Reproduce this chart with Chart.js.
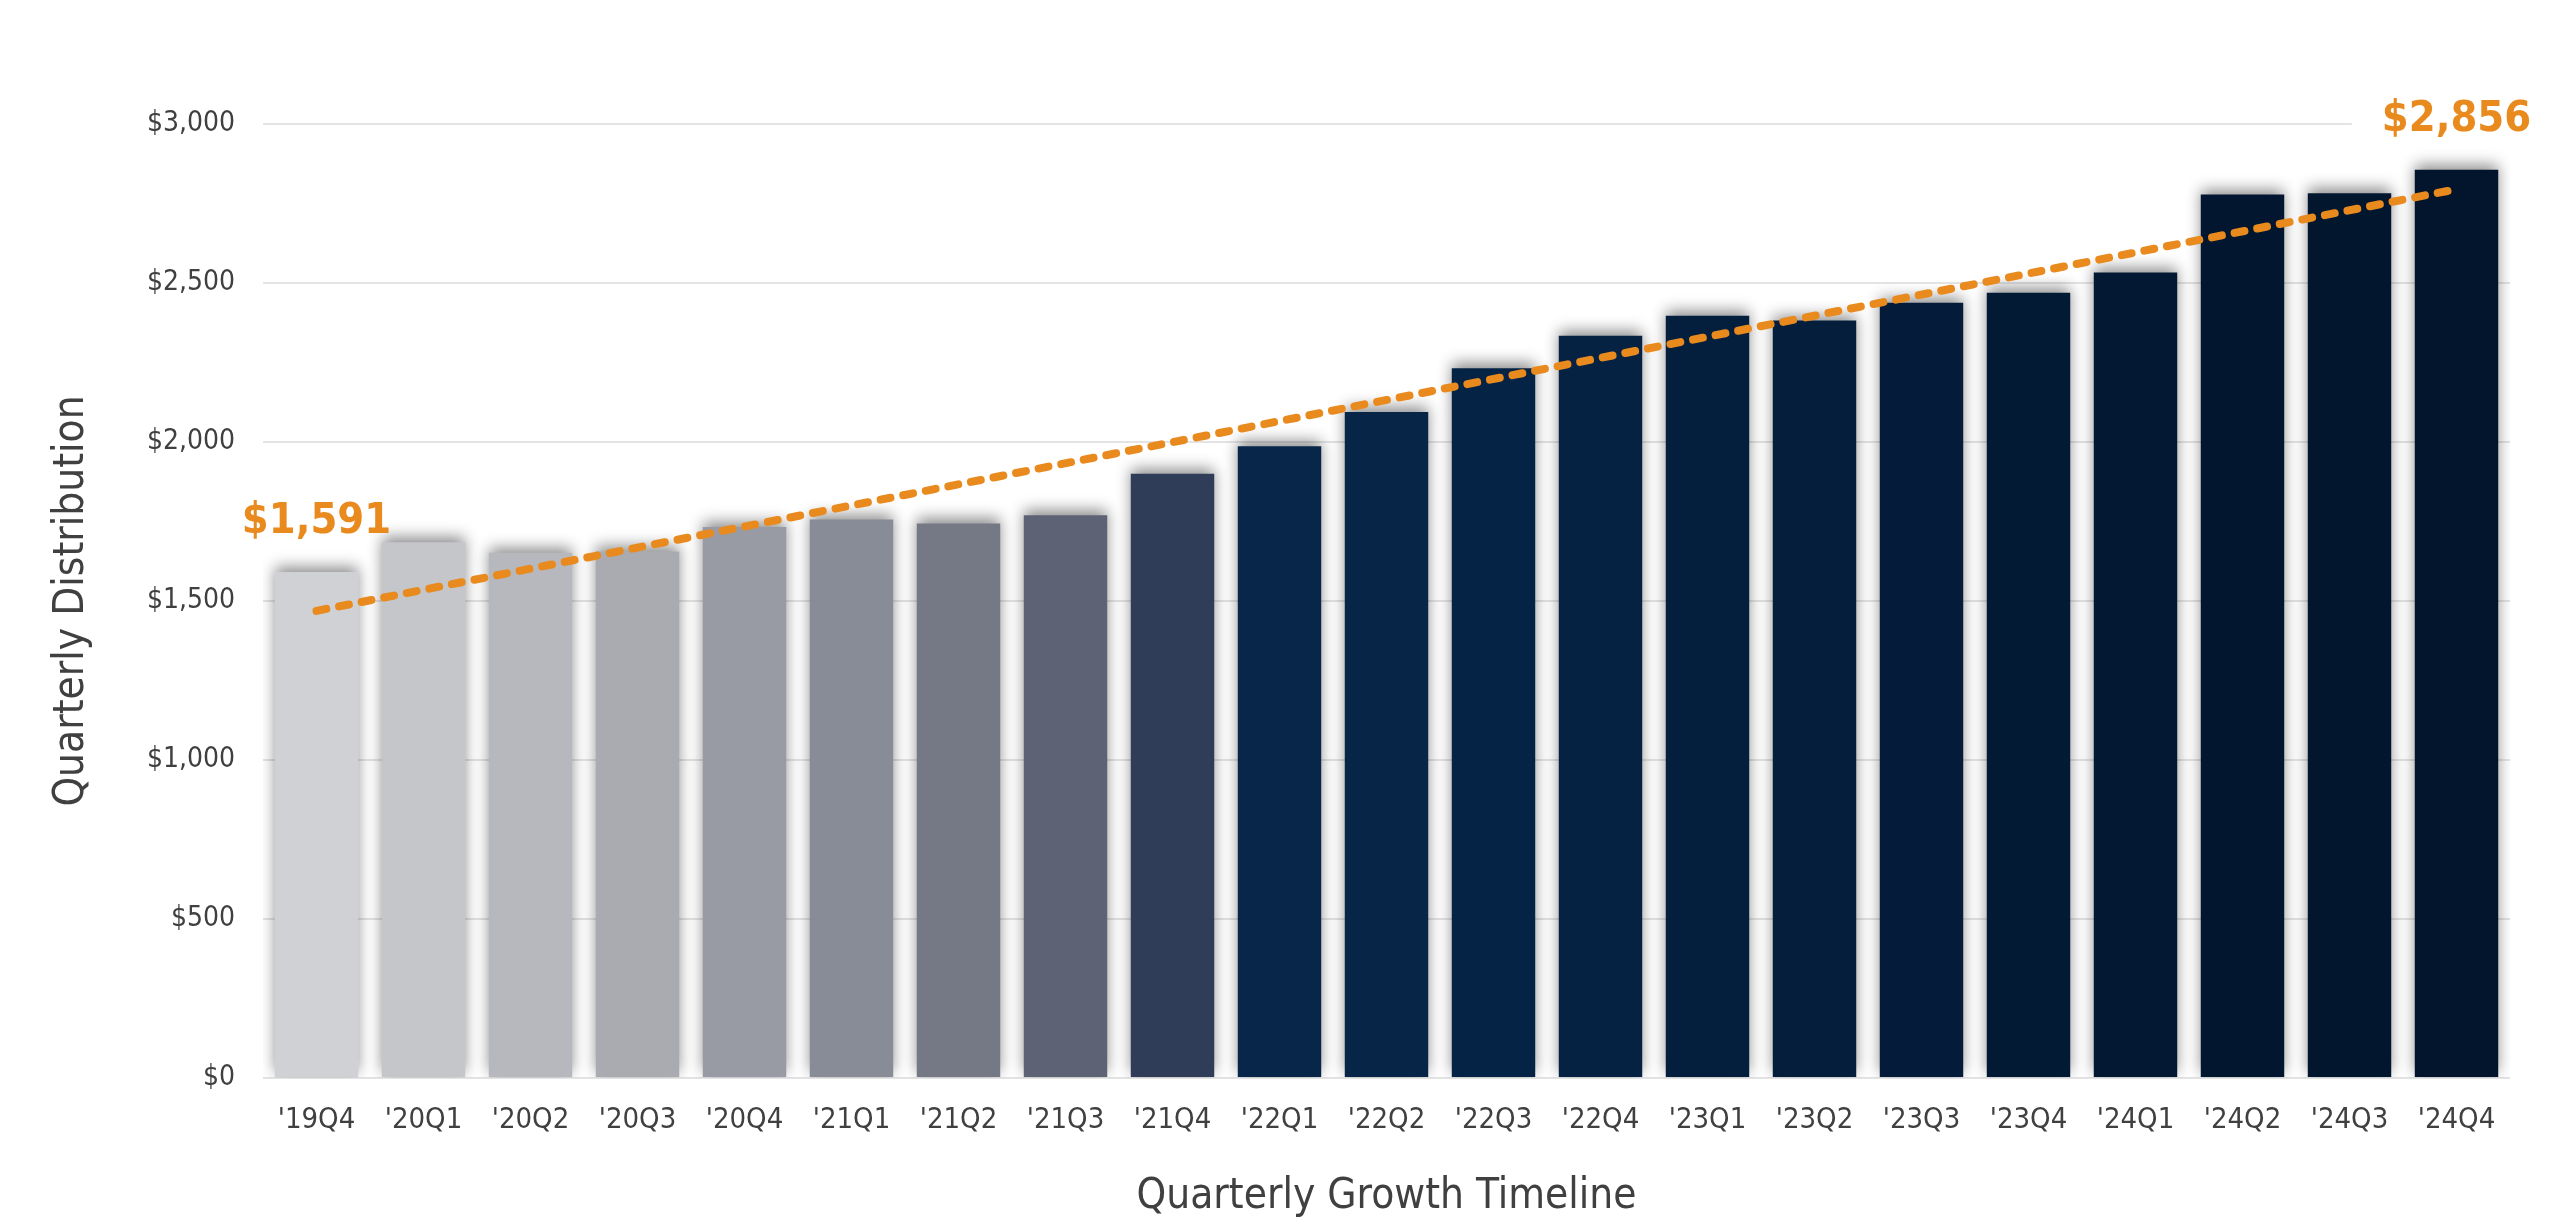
<!DOCTYPE html>
<html>
<head>
<meta charset="utf-8">
<script src="https://cdn.jsdelivr.net/npm/chart.js@4.4.1/dist/chart.umd.min.js"></script>
<style>
html,body{margin:0;padding:0;background:#ffffff;}
#wrap{width:2560px;height:1230px;position:relative;}
</style>
</head>
<body>
<div id="wrap"><canvas id="c"></canvas></div>
<script>
// ---- data ----
const categories = ["'19Q4","'20Q1","'20Q2","'20Q3","'20Q4","'21Q1","'21Q2","'21Q3","'21Q4","'22Q1","'22Q2","'22Q3","'22Q4","'23Q1","'23Q2","'23Q3","'23Q4","'24Q1","'24Q2","'24Q3","'24Q4"];
const distributions = [1591,1685,1652,1656,1733,1756,1744,1770,1900,1987,2094,2232,2334,2397,2382,2438,2469,2533,2778,2782,2856];
const trendStartValue = 1469;
const trendEndValue = 2795;
const yTickValues = [0,500,1000,1500,2000,2500,3000];
const highlightIndexes = [0, 20];
const yTitle = "Quarterly Distribution";
const xTitle = "Quarterly Growth Timeline";

// ---- styles ----
const barColors = ["#CFD1D5","#C4C6CA","#B6B8BD","#A9ABB0","#989BA3","#888C96","#757985","#5D6274","#2F3D58","#07264A","#062547","#052344","#052242","#041F3E","#041E3C","#041C39","#031A35","#031832","#02172F","#02162E","#02152C"];
const labelBackgrounds = [false, true];
const condensed = "'Liberation Sans Narrow','DejaVu Sans Condensed','Open Sans',sans-serif";
const orange = "#E98A1E";
const textGray = "#404040";

const fmt = v => '$' + Number(v).toLocaleString('en-US');

const shadowPlugin = {
  id: 'barShadow',
  beforeDatasetDraw(chart, args) {
    if (args.meta.type !== 'bar') return;
    const ctx = chart.ctx;
    ctx.save();
    ctx.shadowColor = 'rgba(0,0,0,0.45)';
    ctx.shadowBlur = 14;
    ctx.shadowOffsetX = 0;
    ctx.shadowOffsetY = -5;
  },
  afterDatasetDraw(chart, args) {
    if (args.meta.type !== 'bar') return;
    chart.ctx.restore();
  }
};

const labelPlugin = {
  id: 'endLabels',
  afterDatasetsDraw(chart) {
    const ctx = chart.ctx;
    const xs = chart.scales.x, ys = chart.scales.y;
    ctx.save();
    ctx.font = "bold 43px " + condensed;
    ctx.textAlign = 'center';
    ctx.textBaseline = 'middle';
    highlightIndexes.forEach((i, k) => {
      const x = xs.getPixelForValue(i);
      const y = ys.getPixelForValue(distributions[i]) - 50;
      const t = fmt(distributions[i]);
      const w = ctx.measureText(t).width;
      if (labelBackgrounds[k]) {
        ctx.fillStyle = '#ffffff';
        ctx.fillRect(x - w/2 - 30, y - 26, w + 60, 52);
      }
      ctx.fillStyle = orange;
      ctx.fillText(t, x, y);
    });
    ctx.restore();
  }
};

new Chart(document.getElementById('c'), {
  type: 'bar',
  data: {
    labels: categories,
    datasets: [
      {
        type: 'line',
        label: 'Trend',
        data: [{x: categories[0], y: trendStartValue}, {x: categories[categories.length-1], y: trendEndValue}],
        borderColor: orange,
        borderWidth: 8,
        borderDash: [10, 13],
        borderCapStyle: 'round',
        pointRadius: 0,
        fill: false,
        order: 0
      },
      {
        type: 'bar',
        label: 'Quarterly Distribution',
        data: distributions,
        backgroundColor: barColors,
        borderWidth: 0,
        categoryPercentage: 1.0,
        barPercentage: 0.78,
        order: 1
      }
    ]
  },
  options: {
    responsive: true,
    maintainAspectRatio: false,
    animation: false,
    devicePixelRatio: 1,
    layout: { padding: { top: 124, right: 50, bottom: 0, left: 18 } },
    plugins: {
      legend: { display: false },
      tooltip: { enabled: false }
    },
    scales: {
      x: {
        grid: { display: false, drawTicks: false },
        border: { display: false },
        ticks: { color: textGray, font: { family: condensed, size: 29 }, padding: 25, maxRotation: 0, autoSkip: false },
        title: { display: true, text: xTitle, color: textGray, font: { family: condensed, size: 42 }, padding: { top: 0, bottom: 8 } },
        afterFit(s) { s.height = 152; }
      },
      y: {
        min: 0, max: 3000,
        afterBuildTicks(s) { s.ticks = yTickValues.map(v => ({ value: v })); },
        grid: { color: '#E4E4E4', lineWidth: 2, drawTicks: false },
        border: { display: false },
        ticks: { color: textGray, font: { family: condensed, size: 28 }, padding: 28, callback: v => fmt(v) },
        title: { display: true, text: yTitle, color: textGray, font: { family: condensed, size: 42 }, padding: { top: 29, bottom: 0 } },
        afterFit(s) { s.width = 245; }
      }
    }
  },
  plugins: [shadowPlugin, labelPlugin]
});
</script>
</body>
</html>
